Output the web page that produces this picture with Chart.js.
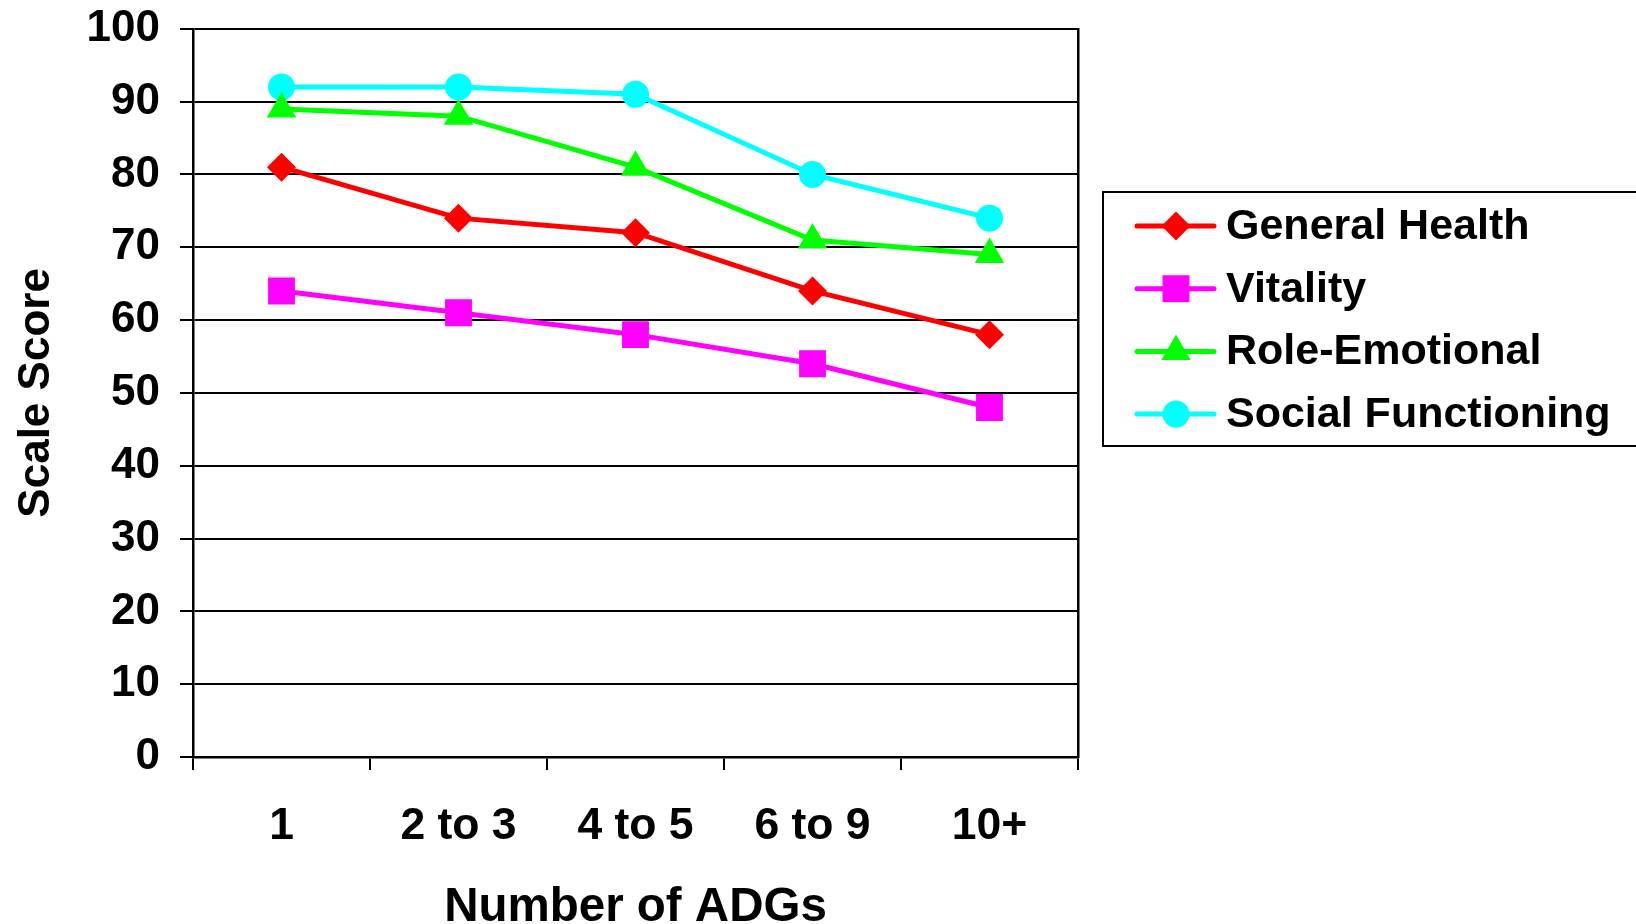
<!DOCTYPE html>
<html>
<head>
<meta charset="utf-8">
<script src="https://cdn.jsdelivr.net/npm/chart.js@4.4.1/dist/chart.umd.min.js"></script>
<style>
  html, body { margin: 0; padding: 0; background: #fff; }
  #chart { display: block; }
</style>
</head>
<body>
<canvas id="chart" width="1636" height="924"></canvas>
<script>
// scores per ADG group
const categories = ['1', '2 to 3', '4 to 5', '6 to 9', '10+'];
const generalHealth = [81, 74, 72, 64, 58];
const vitality = [64, 61, 58, 54, 48];
const roleEmotional = [89, 88, 81, 71, 69];
const socialFunctioning = [92, 92, 91, 80, 74];
const yMin = 0, yMax = 100, yStep = 10;

const FONT = '"Liberation Sans", Arial, sans-serif';

function series(label, data, color, style, radius) {
  return {
    label: label,
    data: data,
    borderColor: color,
    backgroundColor: color,
    borderWidth: 5,
    pointStyle: style,
    pointRadius: radius,
    pointHoverRadius: radius,
    pointBackgroundColor: color,
    pointBorderColor: color,
    pointBorderWidth: 0,
    tension: 0
  };
}

// legend with a line through each marker, drawn in a framed box
const lineLegend = {
  id: 'lineLegend',
  afterDraw(chart, args, opts) {
    const ctx = chart.ctx;
    ctx.save();
    ctx.lineWidth = 2;
    ctx.strokeStyle = '#000';
    ctx.strokeRect(opts.x, opts.y, opts.w, opts.h);
    chart.data.datasets.forEach((ds, i) => {
      const y = opts.y + opts.first + i * opts.gap;
      ctx.strokeStyle = ds.borderColor;
      ctx.lineWidth = ds.borderWidth;
      ctx.lineCap = 'round';
      ctx.beginPath();
      ctx.moveTo(opts.x + 34, y);
      ctx.lineTo(opts.x + 111, y);
      ctx.stroke();
      ctx.fillStyle = ds.pointBackgroundColor;
      Chart.helpers.drawPoint(ctx, {
        pointStyle: ds.pointStyle, radius: ds.pointRadius, borderWidth: 0, rotation: 0
      }, opts.x + 73, y);
      ctx.fillStyle = '#000';
      ctx.font = 'bold 43px ' + FONT;
      ctx.textBaseline = 'middle';
      ctx.textAlign = 'left';
      ctx.fillText(ds.label, opts.x + 123, y + 1);
    });
    ctx.restore();
  }
};

new Chart(document.getElementById('chart'), {
  type: 'line',
  data: {
    labels: categories,
    datasets: [
      series('General Health', generalHealth, '#ff0000', 'rectRot', 14.5),
      series('Vitality', vitality, '#ff00ff', 'rect', 19),
      series('Role-Emotional', roleEmotional, '#00ff00', 'triangle', 17),
      series('Social Functioning', socialFunctioning, '#00ffff', 'circle', 13.5)
    ]
  },
  options: {
    responsive: false,
    animation: false,
    devicePixelRatio: 1,
    layout: { padding: { left: 0, right: 558, top: 4, bottom: 0 } },
    plugins: {
      legend: { display: false },
      tooltip: { enabled: false },
      lineLegend: { x: 1103, y: 192, w: 560, h: 254, first: 34, gap: 62.7 }
    },
    scales: {
      x: {
        offset: true,
        grid: {
          offset: true,
          drawOnChartArea: false,
          drawTicks: true,
          tickLength: 13,
          color: '#000',
          lineWidth: 2
        },
        border: { color: '#000', width: 2.5 },
        ticks: {
          color: '#000',
          padding: 30,
          font: { family: FONT, size: 44.5, weight: 'bold' },
          maxRotation: 0
        },
        title: {
          display: true,
          text: 'Number of ADGs',
          color: '#000',
          font: { family: FONT, size: 47.5, weight: 'bold', lineHeight: 0.67 },
          padding: { top: 0, bottom: 0 }
        },
        afterFit(scale) { scale.height = 167; }
      },
      y: {
        min: yMin,
        max: yMax,
        grid: {
          color: '#000',
          lineWidth: 2,
          drawTicks: true,
          tickLength: 13
        },
        border: { color: '#000', width: 2.5 },
        ticks: {
          stepSize: yStep,
          color: '#000',
          padding: 20,
          font: { family: FONT, size: 44, weight: 'bold', lineHeight: 0.4 }
        },
        title: {
          display: true,
          text: 'Scale Score',
          color: '#000',
          font: { family: FONT, size: 44, weight: 'bold', lineHeight: 1.2 },
          padding: { top: 10, bottom: 0 }
        },
        afterFit(scale) { scale.width = 193; }
      },
      yRight: {
        position: 'right',
        min: yMin,
        max: yMax,
        ticks: { display: false },
        grid: { drawOnChartArea: false, drawTicks: false },
        border: { color: '#000', width: 2.5 },
        afterFit(scale) { scale.width = 0; }
      }
    }
  },
  plugins: [lineLegend]
});
</script>
</body>
</html>
